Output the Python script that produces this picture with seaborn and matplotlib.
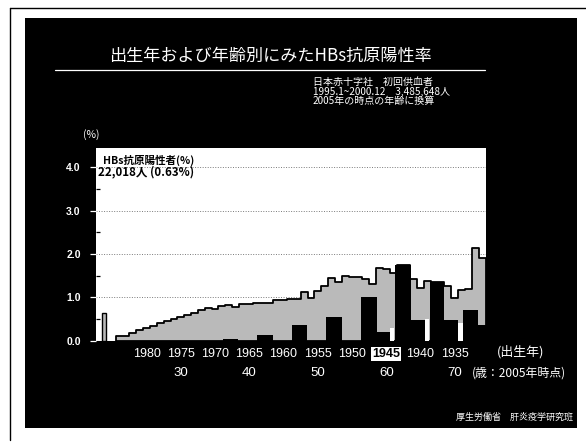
import numpy as np
import pandas as pd
import matplotlib
matplotlib.use("Agg")
import matplotlib.pyplot as plt
from matplotlib.patches import Rectangle
from matplotlib.lines import Line2D
import matplotlib.transforms as mtransforms
import seaborn as sns

# ---------------- data ----------------
birth_years = list(range(1984, 1930, -1))          # 1984 ... 1931
rates = [0.11, 0.12, 0.17, 0.24, 0.29, 0.33, 0.40, 0.45, 0.50, 0.55,
         0.59, 0.65, 0.71, 0.75, 0.74, 0.80, 0.82, 0.77, 0.85, 0.85,
         0.86, 0.88, 0.88, 0.93, 0.94, 0.96, 0.97, 1.13, 0.99, 1.15,
         1.26, 1.44, 1.36, 1.49, 1.48, 1.47, 1.42, 1.32, 1.68, 1.65,
         1.56, 1.74, 1.74, 1.42, 1.21, 1.38, 1.35, 1.35, 1.27, 0.99,
         1.17, 1.20, 2.14, 1.92]
total_rate = 0.63

# cohort (black) bars: (start year, end year) and rate
cohort_a_edges = [(1968.8, 1966.6), (1963.9, 1961.6), (1958.8, 1956.6), (1953.8, 1951.5),
                  (1948.7, 1946.4), (1943.7, 1941.4), (1938.6, 1936.6), (1933.8, 1931.6)]
cohort_a_rates = [0.03, 0.14, 0.37, 0.54, 1.02, 1.74, 1.35, 0.71]
cohort_b_edges = [(1946.4, 1944.5), (1941.4, 1939.4), (1936.6, 1934.5), (1931.6, 1930.4)]
cohort_b_rates = [0.21, 0.47, 0.48, 0.37]
gap_edges = [(1944.45, 1943.8), (1939.4, 1938.7), (1934.5, 1933.85)]
gap_rates = [0.3, 0.5, 0.4]

tick_years = [1980, 1975, 1970, 1965, 1960, 1955, 1950, 1945, 1940, 1935]
ages = [30, 40, 50, 60, 70]
yticks = [0.0, 1.0, 2.0, 3.0, 4.0]

title = "出生年および年齢別にみたHBs抗原陽性率"
sub_lines = ["日本赤十字社　初回供血者", "1995.1~2000.12　3,485,648人", "2005年の時点の年齢に換算"]
ann1 = "HBs抗原陽性者(%)"
ann2 = "22,018人 (0.63%)"
footer = "厚生労働省　肝炎疫学研究班"

df = pd.DataFrame({"year": birth_years, "rate": rates})

# ---------------- style ----------------
sns.set_theme(style="white")
plt.rcParams['font.family'] = ['Noto Sans CJK JP', 'DejaVu Sans']
NUM = ['Liberation Sans', 'DejaVu Sans']

W, H = 586, 443
fig = plt.figure(figsize=(W / 100, H / 100), dpi=100)
fig.patch.set_facecolor('white')

# black slide background
fig.patches.append(Rectangle((25 / W, 1 - 428 / H), (577 - 25) / W, (428 - 18) / H,
                             transform=fig.transFigure, facecolor='black',
                             edgecolor='none', zorder=-2))
fig.add_artist(Line2D([10 / W, 10 / W], [1 - 8 / H, 1 - 440 / H], color='black', lw=1))
fig.add_artist(Line2D([10 / W, 586 / W], [1 - 8 / H, 1 - 8 / H], color='black', lw=1))

ax = fig.add_axes([96 / W, 1 - 340.7 / H, (486 - 96) / W, (340.7 - 148) / H])
ax.set_facecolor('white')

edges = [1930.5 + i for i in range(55)]
sns.histplot(data=df, x="year", weights="rate", bins=edges, element='step', fill=True,
             color='#bababa', edgecolor='black', linewidth=1.3, alpha=1, ax=ax, zorder=2)

# overall bar
ax.bar(1986.25, total_rate, width=0.6, color='#bababa', edgecolor='black', linewidth=1.0, zorder=2)

for (a, b), r in zip(cohort_a_edges, cohort_a_rates):
    ax.bar((a + b) / 2, r, width=abs(a - b), color='black', linewidth=0, zorder=3)
for (a, b), r in zip(cohort_b_edges, cohort_b_rates):
    ax.bar((a + b) / 2, r, width=abs(a - b), color='black', linewidth=0, zorder=3)
for (a, b), r in zip(gap_edges, gap_rates):
    ax.bar((a + b) / 2, r, width=abs(a - b), color='white', linewidth=0, zorder=3)

ax.set_xlim(1987.38, 1930.44)
ax.set_ylim(0, 4.45)
ax.set_xlabel('')
ax.set_ylabel('')
for s in ax.spines.values():
    s.set_visible(False)

ax.set_axisbelow(True)
ax.yaxis.grid(True, linestyle=(0, (1, 1.6)), color='#7a7a7a', linewidth=0.7)
ax.xaxis.grid(False)

ax.set_yticks(yticks)
ax.set_yticklabels([f"{v:.1f}" for v in yticks], color='white', fontsize=7.5,
                   fontweight='bold', family=NUM)
ax.set_yticks([0.5, 1.5, 2.5, 3.5], minor=True)
ax.tick_params(axis='y', which='major', length=4, width=0.9, color='white', direction='out', pad=7, left=True)
ax.tick_params(axis='y', which='minor', length=3, width=0.9, color='black', direction='in', left=True)

ax.set_xticks(tick_years)
ax.set_xticklabels([str(y) for y in tick_years], color='white', fontsize=9, family=NUM)
ax.tick_params(axis='x', length=0, pad=5)
for lbl in ax.get_xticklabels():
    if lbl.get_text() == "1945":
        lbl.set_color('black')
        lbl.set_fontweight('bold')
        lbl.set_bbox(dict(facecolor='white', edgecolor='none', pad=0.6))

# age labels (second row)
trans = mtransforms.blended_transform_factory(ax.transData, fig.transFigure)
for a in ages:
    ax.text(2005 - a, 1 - 373 / H, str(a), transform=trans, ha='center', va='center',
            color='white', fontsize=9.5, family=NUM)
fig.text(497 / W, 1 - 352 / H, "(出生年)", color='white', fontsize=9.3, ha='left', va='center')
fig.text(472 / W, 1 - 373 / H, "(歳：2005年時点)", color='white', fontsize=8.6, ha='left', va='center')

# in-plot annotation
ax.text(0.018, 0.938, ann1, transform=ax.transAxes, ha='left', va='center',
        fontsize=7.6, fontweight='bold', color='black')
ax.text(0.005, 0.877, ann2, transform=ax.transAxes, ha='left', va='center',
        fontsize=8.3, fontweight='bold', color='black')

fig.text(91 / W, 1 - 135 / H, "(%)", color='white', fontsize=7.5, ha='center', va='center')

# title and subtitle
fig.text(270 / W, 1 - 56 / H, title, color='white', fontsize=12.3, ha='center', va='center')
fig.add_artist(Line2D([55 / W, 485 / W], [1 - 70 / H, 1 - 70 / H], color='white', lw=0.9))
fig.text(313 / W, 1 - 91.5 / H, "\n".join(sub_lines), color='white', fontsize=7.2,
         ha='left', va='center', linespacing=0.95)

fig.text(573 / W, 1 - 417.5 / H, footer, color='white', fontsize=6.5, ha='right', va='center')

fig.savefig('out.png', dpi=100, facecolor=fig.get_facecolor())
